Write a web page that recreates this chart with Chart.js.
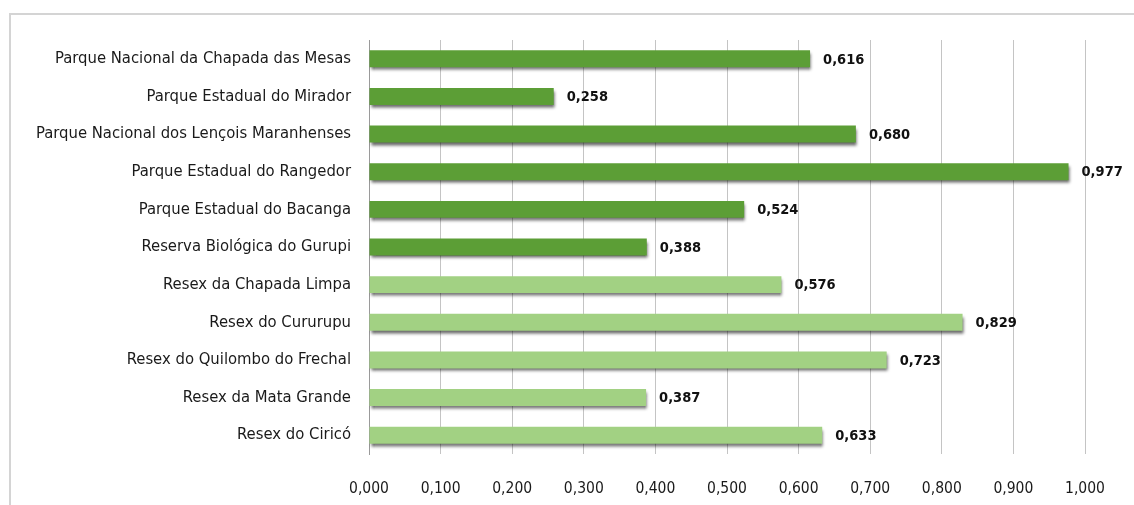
<!DOCTYPE html>
<html>
<head>
<meta charset="utf-8">
<script src="https://cdn.jsdelivr.net/npm/chart.js@4/dist/chart.umd.min.js"></script>
<style>
  html, body { margin: 0; padding: 0; background: #fff; }
  #frame { position: absolute; left: 9px; top: 13px; width: 1125px; height: 492px;
           border-top: 2px solid #d4d4d4; border-left: 2px solid #d4d4d4; box-sizing: border-box; }
  #wrap { position: absolute; left: 0; top: 0; width: 1134px; height: 505px; }
</style>
</head>
<body>
<div id="frame"></div>
<div id="wrap"><canvas id="chart"></canvas></div>
<script>
// categories, top to bottom
const categories = [
  'Parque Nacional da Chapada das Mesas',
  'Parque Estadual do Mirador',
  'Parque Nacional dos Lençois Maranhenses',
  'Parque Estadual do Rangedor',
  'Parque Estadual do Bacanga',
  'Reserva Biológica do Gurupi',
  'Resex da Chapada Limpa',
  'Resex do Cururupu',
  'Resex do Quilombo do Frechal',
  'Resex da Mata Grande',
  'Resex do Ciricó'
]
const values = [0.616, 0.258, 0.680, 0.977, 0.524, 0.388, 0.576, 0.829, 0.723, 0.387, 0.633]
// first six are "Parque/Reserva" (dark), rest are "Resex" (light)
const groups = ['dark','dark','dark','dark','dark','dark','light','light','light','light','light']
const tickLabels = ['0,000','0,100','0,200','0,300','0,400','0,500','0,600','0,700','0,800','0,900','1,000']

const FONT = '"Liberation Sans Narrow", "DejaVu Sans Condensed", "Open Sans", sans-serif'
const fmt = v => v.toFixed(3).replace('.', ',')

let barColors = groups.map(g => g === 'dark' ? '#5c9e36' : '#a2d183')

// bar shadow
const shadowPlugin = {
    id: 'barShadow',
    beforeDatasetsDraw(chart) {
        let ctx = chart.ctx
        ctx.save()
        ctx.shadowColor = 'rgba(0,0,0,0.6)'
        ctx.shadowOffsetX = 1
        ctx.shadowOffsetY = 3
        ctx.shadowBlur = 3
    },
    afterDatasetsDraw(chart) {
        chart.ctx.restore()
    }
}

// value labels after bar ends
const labelPlugin = {
    id: 'valueLabels',
    afterDatasetsDraw(chart) {
        let ctx = chart.ctx
        let meta = chart.getDatasetMeta(0)
        ctx.save()
        ctx.font = 'bold 14.5px ' + FONT
        ctx.fillStyle = '#111'
        ctx.textBaseline = 'middle'
        ctx.textAlign = 'left'
        meta.data.forEach(function (bar, i) {
            ctx.fillText(fmt(values[i]), bar.x + 13, bar.y + 1)
        })
        ctx.restore()
    }
}

new Chart(document.getElementById('chart'), {
    type: 'bar',
    data: {
        labels: categories,
        datasets: [{
            data: values,
            backgroundColor: barColors,
            borderWidth: 0,
            barPercentage: 0.45,
            categoryPercentage: 1
        }]
    },
    options: {
        indexAxis: 'y',
        responsive: true,
        maintainAspectRatio: false,
        animation: false,
        layout: { padding: { top: 40, right: 49, left: 0, bottom: 0 } },
        plugins: { legend: { display: false }, tooltip: { enabled: false } },
        scales: {
            x: {
                min: 0,
                max: 1,
                ticks: {
                    stepSize: 0.1,
                    padding: 26,
                    color: '#1a1a1a',
                    font: { family: FONT, size: 15.5 },
                    callback: (v, i) => tickLabels[i]
                },
                grid: { color: '#c4c4c4', drawTicks: false },
                border: { display: false },
                afterFit: s => { s.height = 51 }
            },
            y: {
                ticks: {
                    padding: 18,
                    color: '#1a1a1a',
                    font: { family: FONT, size: 16.5 }
                },
                grid: { display: false, drawTicks: false },
                border: { color: '#9a9a9a' },
                afterFit: s => { s.width = 369 }
            }
        }
    },
    plugins: [shadowPlugin, labelPlugin]
})
</script>
</body>
</html>
